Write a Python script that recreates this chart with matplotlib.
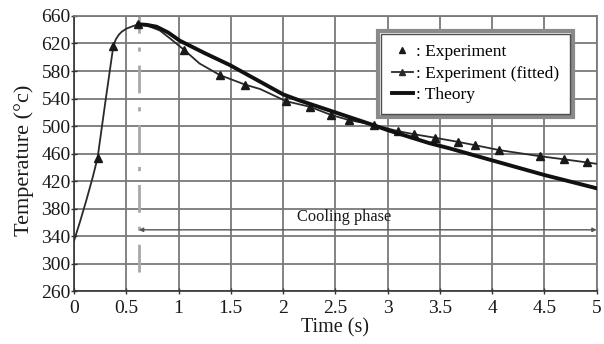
import matplotlib
matplotlib.use("Agg")
import matplotlib.pyplot as plt
from matplotlib.lines import Line2D
from matplotlib.patches import Rectangle

# Experiment (measured points)
exp_t = [0.226, 0.376, 0.615, 1.055, 1.396, 1.64, 2.03, 2.256, 2.46, 2.63, 2.868,
         3.095, 3.253, 3.45, 3.67, 3.84, 4.066, 4.46, 4.69, 4.907]
exp_T = [454, 616, 648, 610.5, 574, 560, 536, 528, 516, 508.7, 501.5,
         492.7, 488, 483, 477, 472, 465, 456, 451.5, 447]

# Experiment (fitted curve)
fit_t = [0.0, 0.06, 0.12, 0.18, 0.226, 0.3, 0.376, 0.40, 0.43, 0.456, 0.5, 0.55,
         0.615, 0.7, 0.82, 0.93, 1.055, 1.2, 1.396, 1.64, 1.78, 2.03, 2.256,
         2.46, 2.63, 2.868, 3.095, 3.253, 3.45, 3.67, 3.84, 4.066, 4.46, 4.69,
         4.907, 5.0]
fit_T = [333, 362, 393, 426, 454, 535, 616, 626, 633, 637, 641.5, 644.5,
         648, 646, 639, 626, 610.5, 591, 574, 560, 553.8, 536, 528,
         516, 508.7, 501.5, 492.7, 488, 483, 477, 472, 465, 456, 451.5,
         447, 445]

# Theory curve
th_t = [0.615, 0.7, 0.79, 0.9, 1.013, 1.25, 1.49, 1.75, 2.0, 2.16, 2.48,
        2.86, 3.0, 3.4, 3.59, 4.0, 4.5, 5.0]
th_T = [648, 647, 644.4, 636, 624, 606, 588.7, 567, 546, 537, 520.8,
        501.5, 494, 475, 467.6, 450, 428.7, 409.4]

cool_start = 0.62
cool_end = 5.0
cool_level = 349

xticks = [0, 0.5, 1, 1.5, 2, 2.5, 3, 3.5, 4, 4.5, 5]
xticklabels = ["0", "0.5", "1", "1.5", "2", "2.5", "3", "3.5", "4", "4.5", "5"]
yticks = list(range(260, 661, 40))

plt.rcParams['font.family'] = ['Liberation Serif', 'DejaVu Serif']

fig = plt.figure(figsize=(6.04, 3.44), dpi=100)
ax = fig.add_axes([0.1225, 0.154, 0.8655, 0.7995])
ax.set_xlim(0, 5)
ax.set_ylim(260, 660)
ax.set_xticks(xticks)
ax.set_xticklabels(xticklabels)
ax.set_yticks(yticks)
ax.grid(True, color='#7a7a7a', linewidth=1.3)
ax.set_axisbelow(True)
for s in ['top', 'right']:
    ax.spines[s].set_color('#7a7a7a')
    ax.spines[s].set_linewidth(1.3)
for s in ['left', 'bottom']:
    ax.spines[s].set_color('#333333')
    ax.spines[s].set_linewidth(1.2)
ax.tick_params(direction='inout', length=5, width=1, colors='#333333',
               labelsize=14, labelcolor='#1a1a1a')
ax.tick_params(axis='y', pad=0)
ax.tick_params(axis='x', pad=4)

# vertical dash-dot line at cooling start
ax.plot([cool_start, cool_start], [288, 660], color='#a8a8a8', lw=2,
        dashes=[10, 5, 1.5, 5], zorder=2)

# cooling arrow
ax.annotate('', xy=(cool_start, cool_level), xytext=(cool_end, cool_level),
            arrowprops=dict(arrowstyle='<|-|>', color='#555555', lw=1.0,
                            mutation_scale=6, shrinkA=0, shrinkB=0), zorder=3)
ax.text(2.58, 367, 'Cooling phase', ha='center', va='center', fontsize=11.8,
        color='#1a1a1a', zorder=4)

ax.plot(fit_t, fit_T, color='#2a2a2a', lw=1.3, zorder=5)
ax.plot(exp_t, exp_T, linestyle='none', marker='^', color='#1a1a1a',
        markersize=6, zorder=6)
ax.plot(th_t, th_T, color='#111111', lw=2.8, zorder=7)

ax.set_xlabel('Time (s)', fontsize=14.5, color='#1a1a1a')
ax.xaxis.set_label_coords(0.5, -0.1)
ax.set_ylabel('Temperature (°c)', fontsize=16, color='#1a1a1a')
ax.yaxis.set_label_coords(-0.076, 0.476)

handles = [
    Line2D([], [], linestyle='none', marker='^', color='#1a1a1a', markersize=4),
    Line2D([], [], color='#2a2a2a', lw=1.3, marker='^', markersize=5),
    Line2D([], [], color='#111111', lw=2.8),
]
labels = [': Experiment', ': Experiment (fitted)', ': Theory']
legkw = dict(fontsize=12.5, frameon=True, fancybox=False, handlelength=1.2,
             handletextpad=0.2, labelspacing=0.3, borderpad=0.6, borderaxespad=0)
leg = ax.legend(handles, labels, loc='upper left', bbox_to_anchor=(0.588, 0.935),
                **legkw)
fig.canvas.draw()
bb = leg.get_window_extent()
leg.remove()

pad = 3
outer = Rectangle((bb.x0 - pad, bb.y0 - pad), bb.width + 2 * pad, bb.height + 2 * pad,
                  transform=None, fill=True, facecolor='white', edgecolor='#8a8a8a',
                  lw=3, zorder=9)
fig.patches.append(outer)
outer.set_figure(fig)

leg2 = fig.legend(handles, labels, loc='lower left',
                  bbox_to_anchor=(bb.x0 / fig.bbox.width, bb.y0 / fig.bbox.height),
                  **legkw)
leg2.get_frame().set_edgecolor('#222222')
leg2.get_frame().set_linewidth(1.0)
leg2.set_zorder(11)

fig.savefig('out.png', dpi=100)
